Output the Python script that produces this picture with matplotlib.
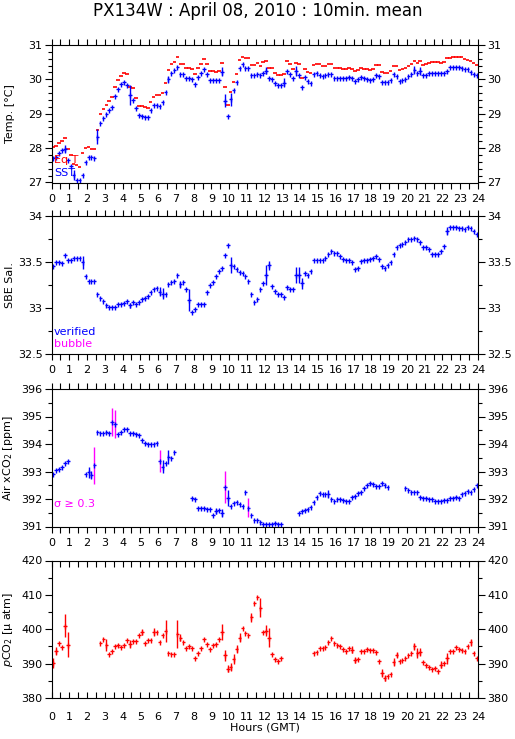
import numpy as np
import matplotlib
matplotlib.use('Agg')
import matplotlib.pyplot as plt
from matplotlib.ticker import MultipleLocator, FormatStrFormatter

nan = np.nan

# 10-minute means, one value per bin (144 bins), bin centres in hours
hours = (np.arange(144) + 0.5) / 6.0

sst = [27.72, 27.75, 27.87, 27.95, 27.98, 27.65,
       27.48, 27.22, 27.07, 27.07, 27.23, 27.60,
       27.74, 27.75, 27.70, 28.33, 28.72, 28.87,
       28.98, 29.10, 29.20, 29.52, 29.71, 29.86,
       29.91, 29.84, 29.55, 29.40, 29.17, 28.95,
       28.93, 28.90, 28.91, 29.10, 29.25, 29.25,
       29.22, 29.33, 29.64, 30.00, 30.20, 30.27,
       30.35, 30.16, 30.16, 30.05, 30.05, 30.00,
       29.87, 30.08, 30.18, 30.30, 30.15, 29.97,
       29.97, 29.97, 29.98, 30.22, 29.38, 28.93,
       29.42, 29.68, 29.92, 30.32, 30.44, 30.32,
       30.32, 30.12, 30.13, 30.17, 30.13, 30.20,
       30.25, 30.05, 30.00, 29.90, 29.85, 29.83,
       29.90, 30.25, 30.15, 30.05, 30.25, 30.13,
       29.77, 30.06, 29.96, 29.90, 30.15, 30.18,
       30.13, 30.10, 30.13, 30.15, 30.15, 30.05,
       30.05, 30.05, 30.03, 30.03, 30.06, 30.05,
       29.95, 30.00, 30.08, 30.03, 30.02, 29.98,
       30.00, 30.13, 30.11, 29.93, 29.93, 29.91,
       29.98, 30.15, 30.10, 29.96, 29.98, 30.01,
       30.10, 30.15, 30.27, 30.20, 30.25, 30.13,
       30.13, 30.20, 30.20, 30.20, 30.20, 30.20,
       30.18, 30.25, 30.35, 30.35, 30.35, 30.35,
       30.32, 30.30, 30.30, 30.22, 30.15, 30.13]
sst_sd = {4: 0.12, 7: 0.15, 15: 0.22, 26: 0.29, 39: 0.1, 57: 0.13, 58: 0.19,
          60: 0.19, 72: 0.1, 78: 0.13, 82: 0.14, 122: 0.12, 124: 0.12}

equ_t = [28.02, 28.06, 28.14, 28.20, 28.28, 27.97,
         27.80, 27.55, 27.50, 27.46, 27.85, 27.99,
         28.02, 27.97, 27.97, 28.53, 28.98, 29.13,
         29.25, 29.37, 29.50, 29.77, 29.98, 30.10,
         30.20, 30.16, 29.79, 29.74, 29.45, 29.22,
         29.22, 29.19, 29.18, 29.35, 29.50, 29.56,
         29.56, 29.60, 29.90, 30.27, 30.44, 30.52,
         30.64, 30.44, 30.44, 30.32, 30.34, 30.29,
         30.16, 30.32, 30.44, 30.58, 30.44, 30.25,
         30.25, 30.22, 30.25, 30.49, 29.77, 29.25,
         29.62, 29.93, 30.16, 30.56, 30.66, 30.61,
         30.61, 30.42, 30.42, 30.47, 30.39, 30.52,
         30.53, 30.34, 30.34, 30.20, 30.13, 30.13,
         30.16, 30.53, 30.44, 30.29, 30.47, 30.44,
         30.03, 30.29, 30.22, 30.18, 30.42, 30.44,
         30.44, 30.39, 30.39, 30.44, 30.44, 30.32,
         30.34, 30.34, 30.30, 30.30, 30.34, 30.30,
         30.24, 30.27, 30.34, 30.29, 30.29, 30.27,
         30.29, 30.42, 30.42, 30.22, 30.20, 30.20,
         30.24, 30.39, 30.39, 30.27, 30.29, 30.32,
         30.39, 30.45, 30.53, 30.47, 30.53, 30.42,
         30.44, 30.47, 30.50, 30.50, 30.50, 30.49,
         30.50, 30.61, 30.61, 30.64, 30.64, 30.64,
         30.64, 30.58, 30.56, 30.53, 30.47, 30.42]

salinity = [33.46, 33.50, 33.50, 33.49, 33.58, 33.53,
            33.53, 33.55, 33.55, 33.55, 33.50, 33.35,
            33.30, 33.30, 33.30, 33.16, 33.11, 33.08,
            33.03, 33.01, 33.01, 33.01, 33.04, 33.04,
            33.06, 33.08, 33.03, 33.07, 33.05, 33.07,
            33.10, 33.11, 33.13, 33.18, 33.21, 33.22,
            33.18, 33.16, 33.16, 33.26, 33.29, 33.30,
            33.36, 33.26, 33.28, 33.21, 33.09, 32.96,
            32.99, 33.04, 33.04, 33.04, 33.18, 33.25,
            33.28, 33.35, 33.41, 33.44, 33.58, 33.69,
            33.47, 33.46, 33.43, 33.40, 33.38, 33.35,
            33.30, 33.16, 33.07, 33.10, 33.21, 33.27,
            33.36, 33.47, 33.24, 33.19, 33.15, 33.15,
            33.12, 33.23, 33.21, 33.21, 33.36, 33.36,
            33.27, 33.38, 33.36, 33.41, 33.53, 33.52,
            33.53, 33.53, 33.55, 33.59, 33.62, 33.60,
            33.60, 33.57, 33.54, 33.53, 33.53, 33.50,
            33.43, 33.44, 33.51, 33.53, 33.53, 33.54,
            33.55, 33.57, 33.54, 33.46, 33.44, 33.47,
            33.50, 33.59, 33.67, 33.69, 33.70, 33.72,
            33.75, 33.76, 33.77, 33.75, 33.72, 33.67,
            33.67, 33.64, 33.59, 33.59, 33.59, 33.62,
            33.68, 33.84, 33.89, 33.89, 33.88, 33.87,
            33.87, 33.86, 33.88, 33.87, 33.84, 33.81]
sal_sd = {10: 0.07, 26: 0.03, 36: 0.05, 37: 0.06, 43: 0.04, 46: 0.12,
          60: 0.09, 72: 0.11, 73: 0.05, 82: 0.09, 83: 0.09, 84: 0.06, 133: 0.04}

air_xco2 = [392.91, 393.06, 393.08, 393.18, 393.30, 393.38,
            nan, nan, nan, nan, nan, 392.91,
            392.97, 392.88, 393.22, 394.43, 394.41, 394.41,
            394.45, 394.41, 394.80, 394.72, 394.36, 394.45,
            394.54, 394.54, 394.41, 394.39, 394.37, 394.33,
            394.15, 394.05, 394.00, 394.00, 394.00, 394.03,
            393.38, 393.18, 393.30, 393.54, 393.48, 393.70,
            nan, nan, nan, nan, nan, 392.03,
            392.00, 391.69, 391.67, 391.67, 391.64, 391.64,
            391.42, 391.57, 391.60, 391.48, 392.45, 392.03,
            391.73, 391.85, 391.88, 391.81, 391.73, 392.27,
            391.69, 391.42, 391.22, 391.22, 391.16, 391.10,
            391.08, 391.10, 391.10, 391.12, 391.10, 391.08,
            nan, nan, nan, nan, nan, 391.48,
            391.57, 391.60, 391.63, 391.70, 391.88, 392.09,
            392.21, 392.18, 392.19, 392.19, 392.00, 391.93,
            391.99, 391.99, 391.97, 391.94, 391.91, 392.09,
            392.11, 392.21, 392.27, 392.39, 392.51, 392.57,
            392.54, 392.48, 392.48, 392.57, 392.51, 392.45,
            nan, nan, nan, nan, nan, 392.39,
            392.31, 392.27, 392.27, 392.27, 392.09, 392.05,
            392.03, 391.99, 391.99, 391.93, 391.93, 391.93,
            391.97, 391.97, 392.03, 392.05, 392.09, 392.05,
            392.17, 392.23, 392.30, 392.27, 392.36, 392.51]
xco2_sd = {12: 0.2, 13: 0.15, 14: 0.66, 20: 0.5, 21: 0.5, 36: 0.41, 37: 0.23,
           39: 0.25, 55: 0.1, 57: 0.15, 58: 0.58, 59: 0.29, 66: 0.36, 93: 0.15}

pco2 = [390.2, 393.6, 395.9, 394.8, 401.0, 395.5,
        nan, nan, nan, nan, nan, nan,
        nan, nan, nan, nan, 395.9, 397.1,
        395.5, 392.8, 393.6, 395.0, 395.3, 394.7,
        395.3, 396.8, 395.8, 396.5, 396.5, 398.2,
        399.2, 396.0, 396.8, 397.0, 399.1, 399.1,
        396.3, 398.4, 399.6, 393.1, 392.8, 392.8,
        398.6, 397.6, 396.2, 394.5, 395.2, 394.5,
        391.6, 393.1, 394.5, 397.1, 395.8, 394.2,
        395.5, 395.8, 397.1, 399.2, 392.4, 388.5,
        389.0, 391.3, 394.3, 397.6, 400.5, 398.9,
        398.2, 403.5, 407.6, 409.5, 406.3, 399.1,
        399.6, 397.6, 392.8, 391.4, 390.9, 391.6,
        nan, nan, nan, nan, nan, nan,
        nan, nan, nan, nan, 393.1, 393.4,
        394.5, 394.5, 394.7, 396.2, 397.4, 396.0,
        395.5, 395.2, 394.2, 393.8, 394.5, 394.0,
        391.0, 391.3, 393.8, 393.8, 394.2, 393.9,
        393.9, 393.4, 390.7, 387.3, 385.8, 386.3,
        387.1, 390.5, 392.6, 390.7, 391.1, 391.6,
        392.6, 393.1, 395.0, 393.1, 393.3, 390.5,
        389.5, 388.9, 388.5, 388.7, 387.9, 389.7,
        390.2, 391.6, 393.6, 393.6, 394.7, 394.2,
        394.0, 393.8, 395.0, 396.2, 393.1, 391.6]
pco2_sd = {0: 1.4, 1: 1.2, 4: 3.3, 5: 3.6, 18: 1.7, 26: 1.2, 30: 1.0, 34: 1.2,
           38: 3.2, 42: 4.1, 43: 1.0, 57: 2.2, 58: 1.5, 59: 1.0, 60: 1.2, 61: 1.5,
           62: 1.2, 63: 1.3, 67: 1.3, 70: 2.8, 72: 1.5, 73: 2.7, 101: 1.0, 102: 0.8,
           111: 1.2, 112: 0.8, 115: 1.2, 116: 0.8, 122: 1.0, 123: 1.5, 124: 1.2,
           131: 1.0, 133: 1.6, 141: 1.0}

BLUE = '#0000ff'
RED = '#ff0000'
MAGENTA = '#ff00ff'
HALF_BIN = 0.1  # horizontal bar half width in hours


def sd_array(sd):
    err = np.zeros(144)
    for k, v in sd.items():
        err[k] = v
    return err


def plus_marks(ax, y, sd, color):
    y = np.asarray(y, float)
    err = sd_array(sd)
    ax.errorbar(hours, y, xerr=HALF_BIN, fmt='|', ms=3.6, mew=1.0,
                color=color, ecolor=color, elinewidth=1.0, capsize=0)
    ax.errorbar(hours, y, yerr=err, fmt='none', ecolor=color,
                elinewidth=1.0, capsize=0)


plt.rcParams['font.family'] = 'DejaVu Sans'
fig = plt.figure(figsize=(5.15, 7.39), dpi=100)

W = 515.0
H = 739.0
left = 51.5 / W
width = 426.5 / W
tops = [45, 216.5, 389, 560.5]
ph = 137.5
axes = [fig.add_axes([left, 1 - (t + ph) / H, width, ph / H]) for t in tops]
ax1, ax2, ax3, ax4 = axes

# panel 1: temperatures
ax1.errorbar(hours, equ_t, xerr=HALF_BIN, fmt='none', ecolor=RED,
             elinewidth=1.2, capsize=0)
plus_marks(ax1, sst, sst_sd, BLUE)
ax1.set_ylim(27, 31)
ax1.yaxis.set_major_locator(MultipleLocator(1))
ax1.yaxis.set_minor_locator(MultipleLocator(0.2))
ax1.set_ylabel('Temp. [°C]', fontsize=8)
ax1.text(0.006, 0.164, 'Eq T', color=RED, fontsize=8, transform=ax1.transAxes,
         va='center')
ax1.text(0.006, 0.069, 'SST', color=BLUE, fontsize=8, transform=ax1.transAxes,
         va='center')

# panel 2: salinity
plus_marks(ax2, salinity, sal_sd, BLUE)
ax2.set_ylim(32.5, 34)
ax2.yaxis.set_major_locator(MultipleLocator(0.5))
ax2.yaxis.set_minor_locator(MultipleLocator(0.25))
ax2.yaxis.set_major_formatter(FormatStrFormatter('%g'))
ax2.set_ylabel('SBE Sal.', fontsize=8)
ax2.text(0.006, 0.16, 'verified', color=BLUE, fontsize=8,
         transform=ax2.transAxes, va='center')
ax2.text(0.006, 0.073, 'bubble', color=MAGENTA, fontsize=8,
         transform=ax2.transAxes, va='center')

# panel 3: atmospheric xCO2, sigma >= 0.3 highlighted
xco2_err = sd_array(xco2_sd)
ax3.errorbar(hours, air_xco2, xerr=HALF_BIN, fmt='|', ms=3.6, mew=1.0,
             color=BLUE, ecolor=BLUE, elinewidth=1.0, capsize=0)
xa = np.asarray(air_xco2, float)
hi = xco2_err >= 0.3
ax3.errorbar(hours[~hi], xa[~hi], yerr=xco2_err[~hi], fmt='none',
             ecolor=BLUE, elinewidth=1.0, capsize=0)
ax3.errorbar(hours[hi], xa[hi], yerr=xco2_err[hi], fmt='none',
             ecolor=MAGENTA, elinewidth=1.0, capsize=0)
ax3.set_ylim(391, 396)
ax3.yaxis.set_major_locator(MultipleLocator(1))
ax3.yaxis.set_minor_locator(MultipleLocator(0.5))
ax3.set_ylabel('Air xCO$_2$ [ppm]', fontsize=8)
ax3.text(0.006, 0.164, 'σ ≥ 0.3', color=MAGENTA, fontsize=8,
         transform=ax3.transAxes, va='center')

# panel 4: pCO2
plus_marks(ax4, pco2, pco2_sd, RED)
ax4.set_ylim(380, 420)
ax4.yaxis.set_major_locator(MultipleLocator(10))
ax4.yaxis.set_minor_locator(MultipleLocator(5))
ax4.set_ylabel('$p$CO$_2$ [µ atm]', fontsize=8)

for ax in axes:
    ax.set_xlim(0, 24)
    ax.xaxis.set_major_locator(MultipleLocator(1))
    ax.xaxis.set_minor_locator(MultipleLocator(0.5))
    ax.tick_params(axis='both', which='both', direction='out', top=True,
                   right=True, labelright=True, labelsize=8, width=0.8)
    ax.tick_params(axis='x', which='both', length=4, pad=4)
    ax.tick_params(axis='y', which='major', length=5, pad=1.5)
    ax.tick_params(axis='y', which='minor', length=3)
    ax.tick_params(axis='y', which='major', labelright=True, pad=1.5)
    ax.yaxis.set_label_coords(-0.085, 0.5)
    for s in ax.spines.values():
        s.set_linewidth(0.8)

ax4.tick_params(axis='x', which='both', direction='in', pad=10)

fig.text(0.5, 1 - 11 / H, 'PX134W : April 08, 2010 : 10min. mean',
         ha='center', va='center', fontsize=12)
fig.text(265 / W, 1 - 728 / H, 'Hours (GMT)', ha='center', va='center',
         fontsize=8)

fig.savefig('out.png', dpi=100)
